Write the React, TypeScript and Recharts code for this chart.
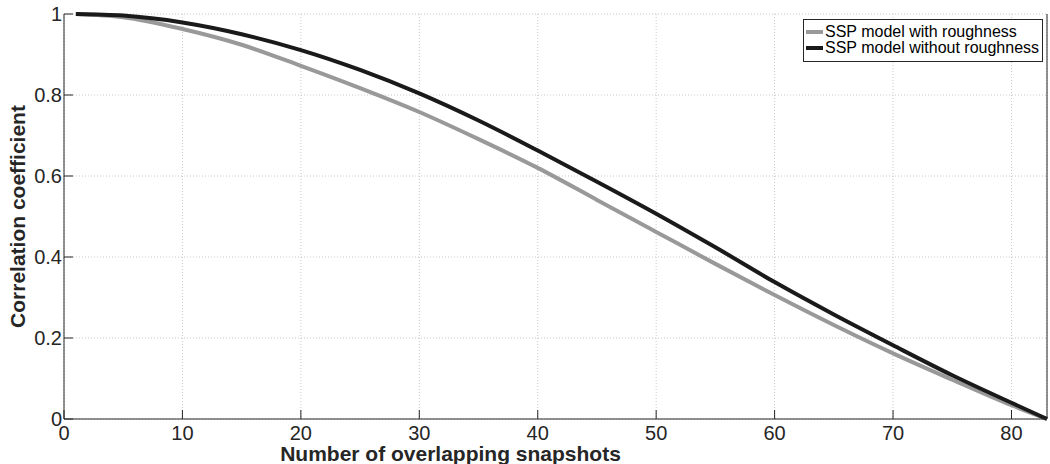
import { LineChart, Line, XAxis, YAxis, CartesianGrid, Legend, Label } from 'recharts'

const FONT = '"Liberation Sans", Arial, Helvetica, sans-serif'
const INK = '#262626'

// overlapping snapshots (x) and correlation coefficient per model
const snapshots = [1, 5, 10, 15, 20, 25, 30, 35, 40, 45, 50, 55, 60, 65, 70, 75, 80, 83]
const withRoughness = [1, 0.992, 0.963, 0.924, 0.872, 0.817, 0.758, 0.691, 0.62, 0.541, 0.462, 0.383, 0.306, 0.232, 0.162, 0.097, 0.034, 0]
const withoutRoughness = [1, 0.996, 0.979, 0.95, 0.911, 0.862, 0.804, 0.737, 0.663, 0.586, 0.507, 0.424, 0.338, 0.258, 0.182, 0.108, 0.04, 0]

const xTicks = [0, 10, 20, 30, 40, 50, 60, 70, 80]
const yTicks = [0, 0.2, 0.4, 0.6, 0.8, 1]

const data = snapshots.map((x, i) => ({
  x,
  rough: withRoughness[i],
  smooth: withoutRoughness[i],
}))

function XTick({ x, y, payload }: any) {
  return (
    <text x={x} y={y} dy="0.71em" textAnchor="middle" fontSize={20} fontFamily={FONT} fill={INK}>
      {payload.value}
    </text>
  )
}

function YTick({ x, y, payload }: any) {
  return (
    <text x={x} y={y} dy="0.355em" textAnchor="end" fontSize={20} fontFamily={FONT} fill={INK}>
      {payload.value}
    </text>
  )
}

function BoxLegend(props: any) {
  const items = (props.payload ?? []) as { value: string; color: string }[]
  return (
    <div
      style={{
        border: `1px solid ${INK}`,
        background: '#fff',
        padding: '4px 3px 5px 2px',
        fontFamily: FONT,
        fontSize: 16,
        lineHeight: '16px',
        color: '#000',
      }}
    >
      {items.map((it) => (
        <div key={it.value} style={{ display: 'flex', alignItems: 'center', whiteSpace: 'nowrap' }}>
          <span style={{ display: 'inline-block', width: 17, height: 4, background: it.color, marginRight: 2 }} />
          {it.value}
        </div>
      ))}
    </div>
  )
}

export default function App() {
  return (
    <div style={{ position: 'absolute', left: 0, top: 0, width: 1050, height: 464, background: '#fff' }}>
      <LineChart width={1050} height={464} data={data} margin={{ top: 14, right: 0, bottom: 0, left: 0 }}>
        <CartesianGrid stroke="#c8c8c8" strokeDasharray="1 2" />
        <XAxis
          dataKey="x"
          type="number"
          domain={[0, 83]}
          ticks={xTicks}
          interval={0}
          height={45}
          tick={<XTick />}
          tickSize={-9}
          tickMargin={16}
          stroke={INK}
        >
          <Label
            value="Number of overlapping snapshots"
            position="insideBottom"
            offset={3}
            dx={-105}
            style={{ fontSize: 21, fontWeight: 'bold', fill: INK, fontFamily: FONT }}
          />
        </XAxis>
        <XAxis
          xAxisId="top"
          orientation="top"
          dataKey="x"
          type="number"
          domain={[0, 83]}
          ticks={xTicks}
          interval={0}
          height={0}
          tickSize={-9}
          tickFormatter={() => ''}
          stroke={INK}
        />
        <YAxis
          type="number"
          domain={[0, 1]}
          ticks={yTicks}
          interval={0}
          width={64}
          tick={<YTick />}
          tickSize={-9}
          tickMargin={11}
          stroke={INK}
        >
          <Label
            value="Correlation coefficient"
            angle={-90}
            position="insideLeft"
            offset={18}
            style={{ textAnchor: 'middle', fontSize: 21, fontWeight: 'bold', fill: INK, fontFamily: FONT }}
          />
        </YAxis>
        <YAxis
          yAxisId="right"
          orientation="right"
          type="number"
          domain={[0, 1]}
          ticks={yTicks}
          interval={0}
          width={3}
          tickSize={-9}
          tickFormatter={() => ''}
          stroke={INK}
        />
        <Legend
          layout="horizontal"
          verticalAlign="middle"
          align="center"
          wrapperStyle={{ position: 'absolute', top: 19, left: 803, width: 'auto' }}
          content={BoxLegend}
        />
        <Line
          name="SSP model with roughness"
          dataKey="rough"
          type="monotone"
          stroke="#999999"
          strokeWidth={4}
          dot={false}
          activeDot={false}
          isAnimationActive={false}
        />
        <Line
          name="SSP model without roughness"
          dataKey="smooth"
          type="monotone"
          stroke="#1a1a1a"
          strokeWidth={4}
          dot={false}
          activeDot={false}
          isAnimationActive={false}
        />
      </LineChart>
    </div>
  )
}
